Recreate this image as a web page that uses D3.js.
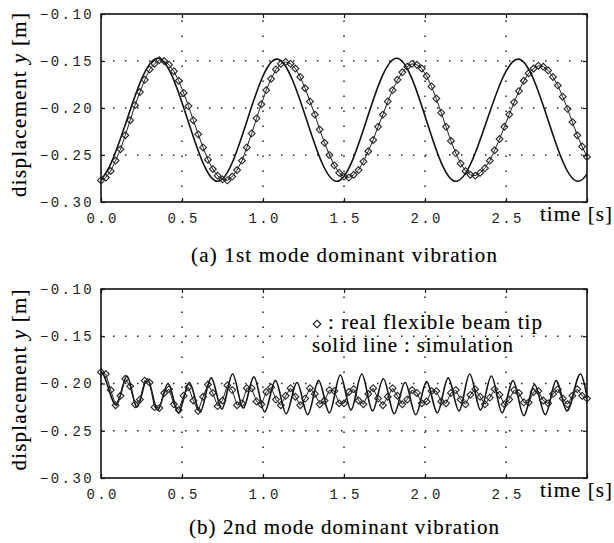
<!DOCTYPE html>
<html>
<head>
<meta charset="utf-8">
<script src="https://cdn.jsdelivr.net/npm/d3@7"></script>
<style>
body { margin: 0; background: #fff; }
svg { display: block; }
.tick text { font-family: "Liberation Mono", "DejaVu Sans Mono", monospace; font-size: 14px; fill: #222; letter-spacing: 2.4px; }
.tick line { stroke: #111; stroke-width: 1.2; }
.serif { font-family: "Liberation Serif", "Times New Roman", serif; font-size: 21px; fill: #000; stroke: #000; stroke-width: 0.15px; }
</style>
</head>
<body>
<div id="chart"></div>
<script>
// sample interval of the measured beam tip (s)
var dt = 0.03

var xTicks = [0, 0.5, 1, 1.5, 2, 2.5, 3]
var xTickLabels = ['0.0', '0.5', '1.0', '1.5', '2.0', '2.5', '']
var yTicks = [-0.10, -0.15, -0.20, -0.25, -0.30]
var yTickLabels = ['\u22120.10', '\u22120.15', '\u22120.20', '\u22120.25', '\u22120.30']

// (a) simulation: turning points of the solid line (first and last lie outside the plot, clipped)
var topSimT = [-0.40, -0.03, 0.35, 0.72, 1.085, 1.455, 1.825, 2.19, 2.575, 2.945, 3.315, 3.68]
var topSimY = [-0.147, -0.278, -0.147, -0.278, -0.148, -0.278, -0.147, -0.278, -0.148, -0.278, -0.148, -0.278]

// (a) real flexible beam tip, one value every dt
var topReal = [
  -0.277, -0.274, -0.267, -0.256, -0.244, -0.229, -0.213, -0.197, -0.183, -0.170, -0.159, -0.153, -0.149,
  -0.150, -0.154, -0.161, -0.171, -0.184, -0.198, -0.213, -0.228, -0.242, -0.255, -0.265, -0.272, -0.276,
  -0.277, -0.273, -0.266, -0.256, -0.242, -0.227, -0.211, -0.196, -0.181, -0.169, -0.159, -0.153,
  -0.151, -0.153, -0.158, -0.167, -0.179, -0.193, -0.207, -0.223, -0.237, -0.250, -0.261, -0.269, -0.273,
  -0.274, -0.271, -0.266, -0.257, -0.246, -0.234, -0.220, -0.207, -0.193, -0.181, -0.170, -0.162, -0.156, -0.153,
  -0.154, -0.158, -0.166, -0.177, -0.190, -0.205, -0.220, -0.235, -0.248, -0.259, -0.267, -0.271,
  -0.272, -0.269, -0.264, -0.256, -0.245, -0.233, -0.220, -0.207, -0.194, -0.182, -0.171, -0.163, -0.158, -0.155,
  -0.156, -0.160, -0.167, -0.176, -0.188, -0.201, -0.215, -0.229, -0.241, -0.252
]

// (b) simulation: turning points of the solid line
var botSimT = [-0.07, 0, 0.094, 0.16, 0.222, 0.286, 0.35, 0.414, 0.478, 0.545, 0.612, 0.68, 0.746, 0.812, 0.878, 0.944,
  1.01, 1.077, 1.143, 1.21, 1.276, 1.343, 1.41, 1.477, 1.543, 1.61, 1.676, 1.743, 1.81, 1.877, 1.943,
  2.01, 2.076, 2.143, 2.21, 2.276, 2.343, 2.41, 2.476, 2.543, 2.61, 2.676, 2.743, 2.81, 2.876, 2.96, 3.03, 3.10]
var botSimY = [-0.215, -0.188, -0.223, -0.192, -0.225, -0.195, -0.228, -0.200, -0.231, -0.199, -0.230, -0.194, -0.227, -0.190, -0.226, -0.193,
  -0.230, -0.197, -0.232, -0.199, -0.233, -0.197, -0.231, -0.191, -0.228, -0.190, -0.229, -0.195, -0.232, -0.199, -0.233,
  -0.198, -0.231, -0.194, -0.229, -0.190, -0.228, -0.192, -0.231, -0.197, -0.234, -0.201, -0.233, -0.197, -0.229, -0.190, -0.229, -0.192]

// (b) real flexible beam tip, one value every dt
var botReal = [
  -0.188, -0.190, -0.207, -0.223, -0.213, -0.195, -0.203, -0.222, -0.217, -0.197, -0.199,
  -0.225, -0.226, -0.210, -0.206, -0.222, -0.228, -0.213, -0.204, -0.218, -0.229,
  -0.214, -0.201, -0.210, -0.224, -0.218, -0.202, -0.207, -0.223, -0.221, -0.205,
  -0.205, -0.219, -0.222, -0.209, -0.204, -0.217, -0.223, -0.213, -0.205, -0.214,
  -0.223, -0.216, -0.205, -0.211, -0.222, -0.218, -0.207, -0.208, -0.221, -0.221,
  -0.209, -0.206, -0.218, -0.222, -0.211, -0.205, -0.216, -0.223, -0.214, -0.205,
  -0.213, -0.222, -0.217, -0.207, -0.210, -0.221, -0.219, -0.208, -0.208, -0.219,
  -0.221, -0.210, -0.207, -0.217, -0.222, -0.212, -0.206, -0.214, -0.222, -0.215,
  -0.206, -0.212, -0.222, -0.217, -0.207, -0.210, -0.220, -0.220, -0.209, -0.208,
  -0.218, -0.221, -0.211, -0.206, -0.216, -0.222, -0.213, -0.206, -0.213, -0.216
]

var captions = ['(a) 1st mode dominant vibration', '(b) 2nd mode dominant vibration']
var legendLines = [': real flexible beam tip', 'solid line : simulation']

var W = 614, H = 543
var left = 101, plotW = 486

var svg = d3.select('#chart').append('svg')
    .attr('width', W)
    .attr('height', H)

var panels = [
  { top: 14, height: 188, simT: topSimT, simY: topSimY, real: topReal, caption: captions[0], capY: 262, capLen: 306, labCy: 105, labLen: 184 },
  { top: 289, height: 189, simT: botSimT, simY: botSimY, real: botReal, caption: captions[1], capY: 534, capLen: 310, labCy: 380, labLen: 181, legend: true }
]

panels.forEach(drawPanel)

function diamond(r) {
  return `M0,${-r}L${r},0L0,${r}L${-r},0Z`
}

function drawPanel(p, k) {
  var x = d3.scaleLinear().domain([0, 3]).range([0, plotW])
  var y = d3.scaleLinear().domain([-0.30, -0.10]).range([p.height, 0])

  var g = svg.append('g').attr('transform', `translate(${left}, ${p.top})`)

  g.append('clipPath').attr('id', 'clip' + k)
    .append('rect').attr('width', plotW).attr('height', p.height)

  // dotted grid
  g.append('g').selectAll('line')
    .data(yTicks.slice(1, -1)).enter()
    .append('line')
      .attr('x1', 0).attr('x2', plotW)
      .attr('y1', d => y(d)).attr('y2', d => y(d))
      .attr('stroke', '#222').attr('stroke-width', 1.5)
      .attr('stroke-dasharray', '1.5,10.5')
  g.append('g').selectAll('line')
    .data(xTicks.slice(1, -1)).enter()
    .append('line')
      .attr('x1', d => x(d)).attr('x2', d => x(d))
      .attr('y1', p.height).attr('y2', 0)
      .attr('stroke', '#222').attr('stroke-width', 1.5)
      .attr('stroke-dasharray', '1.5,13.5')

  // legend (panel b only)
  if (p.legend) {
    g.append('path')
      .attr('transform', 'translate(216, 35)')
      .attr('d', diamond(3.8))
      .attr('fill', 'none').attr('stroke', '#111').attr('stroke-width', 1.1)
    g.append('text').attr('class', 'serif')
      .attr('x', 227).attr('y', 40)
      .attr('textLength', 214)
      .text(legendLines[0])
    g.append('text').attr('class', 'serif')
      .attr('x', 211).attr('y', 63)
      .attr('textLength', 201)
      .text(legendLines[1])
  }

  var plot = g.append('g').attr('clip-path', `url(#clip${k})`)

  var simLine = d3.line()
    .x((d, i) => x(p.simT[i]))
    .y(d => y(d))
    .curve(d3.curveMonotoneX)

  plot.append('path')
    .datum(p.simY)
    .attr('d', simLine)
    .attr('fill', 'none')
    .attr('stroke', '#111')
    .attr('stroke-width', 1.6)

  var realLine = d3.line()
    .x((d, i) => x(i * dt))
    .y(d => y(d))

  plot.append('path')
    .datum(p.real)
    .attr('d', realLine)
    .attr('fill', 'none')
    .attr('stroke', '#222')
    .attr('stroke-width', 1)

  g.append('g').selectAll('path')
    .data(p.real).enter()
    .append('path')
      .attr('transform', (d, i) => `translate(${x(i * dt)}, ${y(d)})`)
      .attr('d', diamond(3.4))
      .attr('fill', 'none')
      .attr('stroke', '#222')
      .attr('stroke-width', 1.1)

  // axes: labels left and bottom, inward ticks on all sides
  g.append('g')
    .call(d3.axisLeft(y).tickValues(yTicks).tickSize(-4).tickPadding(7).tickFormat((d, i) => yTickLabels[i]))
  var xAxis = g.append('g').attr('transform', `translate(0, ${p.height})`)
    .call(d3.axisBottom(x).tickValues(xTicks).tickSize(-4).tickPadding(11).tickFormat((d, i) => xTickLabels[i]))
  xAxis.selectAll('text').attr('dx', 1.2)
  g.append('g').attr('transform', `translate(${plotW}, 0)`)
    .call(d3.axisRight(y).tickValues(yTicks).tickSize(-4).tickFormat(''))
  g.append('g')
    .call(d3.axisTop(x).tickValues(xTicks).tickSize(-4).tickFormat(''))
  g.selectAll('.domain').remove()

  g.append('rect')
    .attr('width', plotW).attr('height', p.height)
    .attr('fill', 'none').attr('stroke', '#111').attr('stroke-width', 1.6)

  // axis titles and caption
  svg.append('text').attr('class', 'serif')
    .attr('x', 540).attr('y', p.top + p.height + 19)
    .attr('textLength', 72)
    .text('time [s]')

  var yl = svg.append('text').attr('class', 'serif')
    .attr('transform', `translate(26, ${p.labCy}) rotate(-90)`)
    .attr('text-anchor', 'middle')
    .attr('textLength', p.labLen)
  yl.append('tspan').text('displacement ')
  yl.append('tspan').attr('font-style', 'italic').text('y')
  yl.append('tspan').text(' [m]')

  svg.append('text').attr('class', 'serif')
    .attr('x', 344).attr('y', p.capY)
    .attr('text-anchor', 'middle')
    .attr('textLength', p.capLen)
    .text(p.caption)
}
</script>
</body>
</html>
